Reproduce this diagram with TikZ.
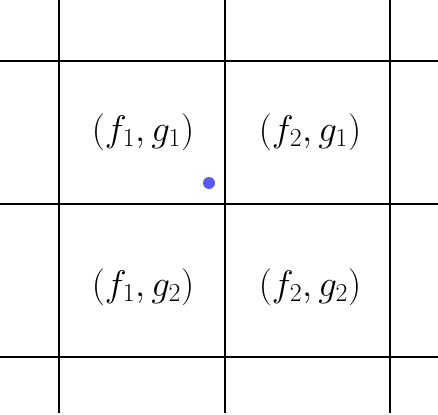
\RequirePackage{fix-cm}
\documentclass[tikz,border=0pt]{standalone}
\begin{document}
\begin{tikzpicture}[x=1pt,y=-1pt,
  gridline/.style={line width=2pt,black},
  lbl/.style={font=\fontsize{37}{44}\selectfont,inner sep=0pt}]
\definecolor{dotblue}{RGB}{90,90,245}
\useasboundingbox (0,0) rectangle (438,414);
\coordinate (v1t) at (58.5,0); \coordinate (v1b) at (58.5,413);
\coordinate (v2t) at (225,0); \coordinate (v2b) at (225,413);
\coordinate (v3t) at (390,0); \coordinate (v3b) at (390,413);
\coordinate (h1l) at (0,61); \coordinate (h1r) at (438,61);
\coordinate (h2l) at (0,203.5); \coordinate (h2r) at (438,203.5);
\coordinate (h3l) at (0,356.5); \coordinate (h3r) at (438,356.5);
\draw[gridline] (v1t) -- (v1b);
\draw[gridline] (v2t) -- (v2b);
\draw[gridline] (v3t) -- (v3b);
\draw[gridline] (h1l) -- (h1r);
\draw[gridline] (h2l) -- (h2r);
\draw[gridline] (h3l) -- (h3r);
\node[lbl] (a) at (143,132) {$(f_1,g_1)$};
\node[lbl] (b) at (310,132) {$(f_2,g_1)$};
\node[lbl] (c) at (143,287) {$(f_1,g_2)$};
\node[lbl] (d) at (310,287) {$(f_2,g_2)$};
\fill[dotblue] (209,183) circle (6);
\end{tikzpicture}
\end{document}
